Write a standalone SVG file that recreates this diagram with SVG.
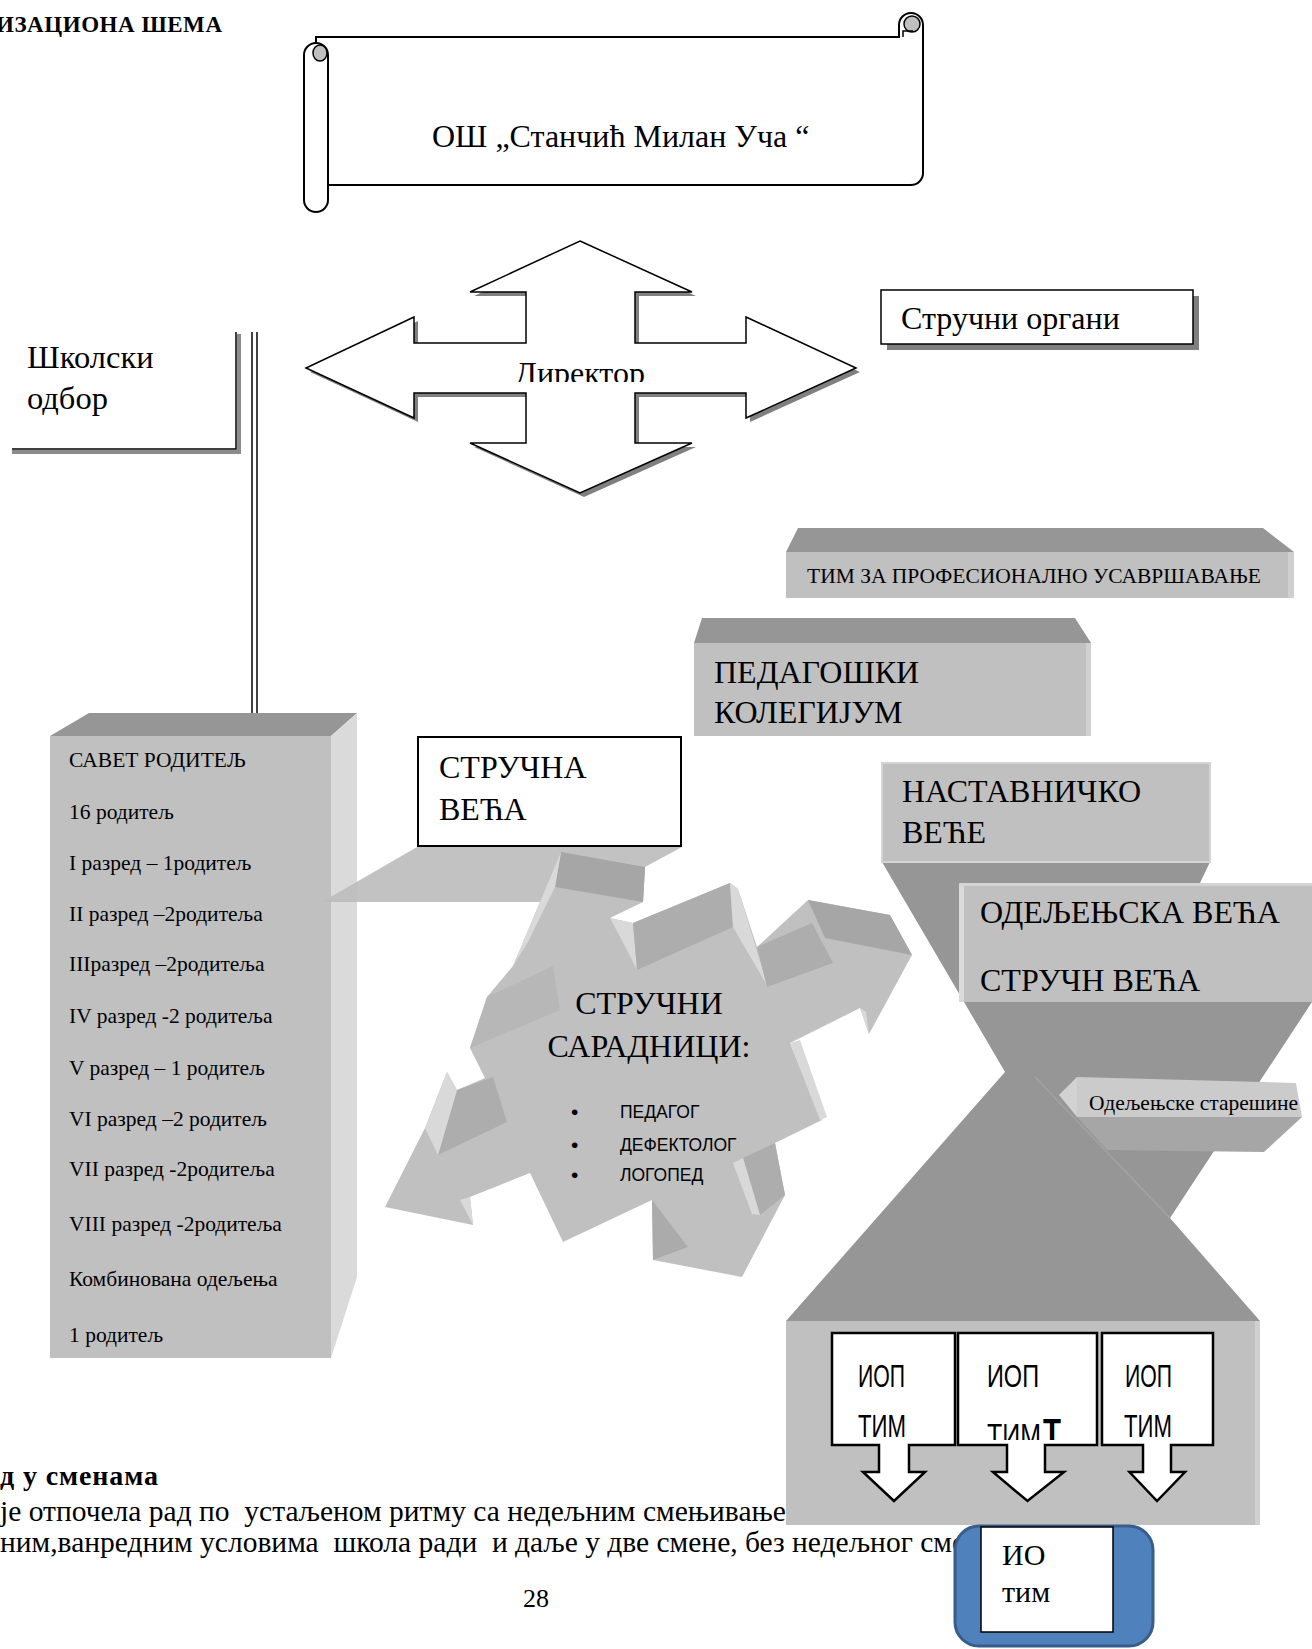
<svg xmlns="http://www.w3.org/2000/svg" width="1312" height="1649" viewBox="0 0 1312 1649">
<style>
.serif{font-family:"Liberation Serif","Times New Roman",serif;fill:#000}
.sans{font-family:"Liberation Sans",Arial,sans-serif;fill:#000}
.big{font-size:32px}
.small{font-size:21.5px}
.face{fill:#c0c0c0}
.dark{fill:#969696}
.wall{fill:#adadad}
.lite{fill:#d9d9d9}
.outline{fill:#fff;stroke:#000;stroke-width:2}
.pre{white-space:pre}
</style>
<defs>
<clipPath id="clipDir"><rect x="420" y="340" width="320" height="42"/></clipPath>
<clipPath id="clipTim2"><rect x="960" y="1400" width="135" height="40"/></clipPath>
<clipPath id="clipStar"><rect x="1077" y="1077" width="225" height="39"/></clipPath>
</defs>
<rect width="1312" height="1649" fill="#fff"/>

<g id="title">
<text class="serif pre" x="-4" y="32" font-size="23" font-weight="bold" textLength="226">ИЗАЦИОНА ШЕМА</text>
</g>

<g id="body-text">
<text class="serif pre" x="0" y="1485" font-size="28" font-weight="bold" textLength="158">д у сменама</text>
<text class="serif pre" x="0" y="1521" font-size="29.5">је отпочела рад по  устаљеном ритму са недељним смењивањем</text>
<text class="serif pre" x="0" y="1552" font-size="29.5">ним,ванредним условима  школа ради  и даље у две смене, без недељног сме</text>
<text class="serif" x="536" y="1607" font-size="26" text-anchor="middle">28</text>
</g>

<g id="school">
<path class="outline" d="M316,37 H899 V25 A12,12 0 0 1 923,25 V173 A12,12 0 0 1 911,185 H316 Z"/>
<circle cx="912" cy="24" r="8" fill="#bfbfbf" stroke="#000" stroke-width="1.5"/>
<path d="M903,37 V31 H913" fill="none" stroke="#000" stroke-width="1.5"/>
<path class="outline" d="M328,200 V55 A12,12 0 0 0 304,55 V200 A12,12 0 0 0 328,200 Z"/>
<ellipse cx="320" cy="53" rx="7" ry="8" fill="#bfbfbf" stroke="#000" stroke-width="1.5"/>
<text class="serif pre" x="432" y="147" font-size="32">ОШ „Станчић Милан Уча “</text>
</g>

<g id="director">
<path fill="#808080" transform="translate(4,4)" d="M580,241 L692,292 L635,292 L635,343 L746,343 L746,317 L856,368 L746,418 L746,393 L635,393 L635,443 L692,443 L580,493 L470,443 L526,443 L526,393 L414,393 L414,418 L306,368 L414,317 L414,343 L526,343 L526,292 L470,292 Z"/>
<path fill="#fff" stroke="#000" stroke-width="1.5" d="M580,241 L692,292 L635,292 L635,343 L746,343 L746,317 L856,368 L746,418 L746,393 L635,393 L635,443 L692,443 L580,493 L470,443 L526,443 L526,393 L414,393 L414,418 L306,368 L414,317 L414,343 L526,343 L526,292 L470,292 Z"/>
<text class="serif" x="580" y="384" font-size="32" text-anchor="middle" clip-path="url(#clipDir)">Директор</text>
</g>

<g id="skolski-odbor">
<path d="M239,334 V452 H12" fill="none" stroke="#8c8c8c" stroke-width="4"/>
<path d="M236,332 V449 H12" fill="none" stroke="#000" stroke-width="1.5"/>
<text class="serif" x="27" y="368" font-size="32.5">Школски</text>
<text class="serif" x="27" y="409" font-size="32.5">одбор</text>
</g>

<g id="strucni-organi">
<rect x="887" y="296" width="312" height="54" fill="#7f7f7f"/>
<rect x="881" y="290" width="312" height="54" fill="#fff" stroke="#000" stroke-width="1.5"/>
<text class="serif big" x="901" y="329">Стручни органи</text>
</g>

<g id="connectors">
<line x1="252" y1="332" x2="252" y2="713" stroke="#000" stroke-width="1.5"/>
<line x1="257" y1="332" x2="257" y2="713" stroke="#000" stroke-width="1.5"/>
</g>

<g id="tim-usavrsavanje">
<polygon class="dark" points="798,528 1263,528 1294,552 786,552"/>
<rect class="face" x="786" y="552" width="508" height="46"/>
<rect x="1288" y="552" width="6" height="46" fill="#d0d0d0"/>
<text class="serif small" x="807" y="583">ТИМ ЗА ПРОФЕСИОНАЛНО УСАВРШАВАЊЕ</text>
</g>

<g id="pedagoski-kolegijum">
<polygon class="dark" points="702,618 1075,618 1091,643 694,643"/>
<rect class="face" x="694" y="643" width="397" height="93"/>
<rect x="1086" y="643" width="5" height="93" fill="#d0d0d0"/>
<text class="serif big" x="714" y="683">ПЕДАГОШКИ</text>
<text class="serif big" x="714" y="723">КОЛЕГИЈУМ</text>
</g>

<g id="hourglass">
<polygon class="dark" points="882,862 1210,862 1200,883 1312,883 1312,1002 1170,1218 1260,1321 786,1321 1005,1072"/>
<line x1="1035" y1="1077" x2="1170" y2="1218" stroke="#a3a3a3" stroke-width="1.5"/>
</g>

<g id="nastavnicko-vece">
<rect class="face" x="882" y="763" width="328" height="99" stroke="#d4d4d4" stroke-width="2"/>
<text class="serif big" x="902" y="802">НАСТАВНИЧКО</text>
<text class="serif big" x="902" y="843">ВЕЋЕ</text>
</g>

<g id="odeljenska-veca">
<rect class="face" x="959" y="883" width="353" height="119"/>
<rect x="959" y="883" width="5" height="119" fill="#dadada"/>
<rect x="959" y="883" width="353" height="3" fill="#d4d4d4"/>
<text class="serif big" x="980" y="923">ОДЕЉЕЊСКА ВЕЋА</text>
<text class="serif big" x="980" y="991">СТРУЧН ВЕЋА</text>
</g>

<g id="odeljenske-staresine">
<polygon points="1077,1117 1302,1117 1264,1152 1107,1150" fill="#a6a6a6"/>
<polygon points="1059,1095 1077,1077 1077,1117" fill="#d2d2d2"/>
<polygon points="1077,1077 1296,1083 1302,1117 1077,1117" fill="#cbcbcb"/>
<text class="serif" x="1089" y="1110" font-size="21.5" clip-path="url(#clipStar)">Одељењске старешине</text>
</g>

<g id="savet-roditelja">
<polygon class="dark" points="50,736 89,713 357,713 331,736"/>
<polygon points="331,736 357,713 357,1277 331,1358" fill="#dadada"/>
<rect class="face" x="50" y="736" width="281" height="622"/>
<g class="serif small">
<text x="69" y="767">САВЕТ РОДИТЕЉ</text>
<text x="69" y="819">16 родитељ</text>
<text x="69" y="870">I разред – 1родитељ</text>
<text x="69" y="921">II разред –2родитеља</text>
<text x="69" y="971">IIIразред –2родитеља</text>
<text x="69" y="1023">IV разред -2 родитеља</text>
<text x="69" y="1075">V разред – 1 родитељ</text>
<text x="69" y="1126">VI разред –2 родитељ</text>
<text x="69" y="1176">VII разред -2родитеља</text>
<text x="69" y="1231">VIII разред -2родитеља</text>
<text x="69" y="1286">Комбинована одељења</text>
<text x="69" y="1342">1 родитељ</text>
</g>
</g>

<g id="strucna-veca">
<polygon points="322,902 417,847 682,847 645,867 643,902" fill="#bdbdbd" fill-opacity="0.92"/>
<rect x="418" y="737" width="263" height="109" fill="#fff" stroke="#000" stroke-width="2"/>
<text class="serif big" x="439" y="778">СТРУЧНА</text>
<text class="serif big" x="439" y="820">ВЕЋА</text>
</g>

<g id="strucni-saradnici">
<polygon class="face" points="561,852 645,867 643,902 610,918 633,923 730,883 738,889 757,947 808,900 890,915 912,955 869,1034 860,1008 790,1043 822,1120 775,1143 785,1195 742,1277 653,1260 652,1200 563,1242 530,1173 470,1197 473,1225 385,1207 425,1128 447,1072 457,1090 485,1078 470,1048 487,997 513,966"/>
<polygon points="487,997 553,966 560,1010 470,1048" fill="#b7b7b7"/>
<polygon points="561,852 645,867 643,902 555,887" fill="#a6a6a6"/>
<polygon class="lite" points="561,852 555,887 528,942 513,966"/>
<polygon class="lite" points="610,918 633,923 637,970 627,950"/>
<polygon class="wall" points="633,923 730,883 733,927 637,970"/>
<polygon class="lite" points="730,883 738,889 768,987 733,927"/>
<polygon class="wall" points="757,947 812,923 833,963 767,987"/>
<polygon points="808,900 890,915 912,955 825,938" fill="#a6a6a6"/>
<polygon class="lite" points="860,1008 866,1012 869,1034"/>
<polygon class="lite" points="790,1043 800,1040 827,1117 820,1120"/>
<polygon class="wall" points="743,1158 775,1143 785,1195 760,1215"/>
<polygon class="lite" points="733,1163 743,1158 760,1215 752,1214"/>
<polygon points="652,1200 688,1247 653,1260" fill="#ababab"/>
<polygon class="wall" points="457,1090 493,1077 507,1122 438,1155"/>
<polygon class="lite" points="447,1072 457,1090 438,1155 425,1128"/>
<polygon class="lite" points="460,1200 470,1197 473,1225"/>
<text class="serif" x="649" y="1014" font-size="32" text-anchor="middle">СТРУЧНИ</text>
<text class="serif" x="649" y="1057" font-size="32" text-anchor="middle">САРАДНИЦИ:</text>
<g class="sans" font-size="17.5">
<text x="571" y="1119" font-size="21">•</text><text x="620" y="1118">ПЕДАГОГ</text>
<text x="571" y="1152" font-size="21">•</text><text x="620" y="1151">ДЕФЕКТОЛОГ</text>
<text x="571" y="1182" font-size="21">•</text><text x="620" y="1181">ЛОГОПЕД</text>
</g>
</g>

<g id="iop-timovi">
<rect class="face" x="786" y="1321" width="474" height="204"/>
<rect x="1255" y="1321" width="5" height="204" fill="#d0d0d0"/>
<path fill="#fff" stroke="#000" stroke-width="2.5" d="M832,1333 H955 V1445 H909 V1472 H925 L894,1501 L863,1472 H879 V1445 H832 Z"/>
<path fill="#fff" stroke="#000" stroke-width="2.5" d="M958,1333 H1097 V1445 H1045 V1472 H1064 L1027.5,1501 L993,1472 H1007 V1445 H958 Z"/>
<path fill="#fff" stroke="#000" stroke-width="2.5" d="M1102,1333 H1213 V1445 H1171 V1472 H1185 L1157,1501 L1129.5,1472 H1143 V1445 H1102 Z"/>
<g class="sans" font-size="32">
<text x="858" y="1387" textLength="47" lengthAdjust="spacingAndGlyphs">ИОП</text>
<text x="858" y="1437" textLength="48" lengthAdjust="spacingAndGlyphs">ТИМ</text>
<text x="987" y="1387" textLength="52" lengthAdjust="spacingAndGlyphs">ИОП</text>
<g clip-path="url(#clipTim2)">
<text x="987" y="1446" textLength="54" lengthAdjust="spacingAndGlyphs">ТИМ</text>
<text x="1043" y="1446" font-size="38" font-weight="bold" textLength="18" lengthAdjust="spacingAndGlyphs">Т</text>
</g>
<text x="1125" y="1387" textLength="47" lengthAdjust="spacingAndGlyphs">ИОП</text>
<text x="1124" y="1437" textLength="48" lengthAdjust="spacingAndGlyphs">ТИМ</text>
</g>
</g>

<g id="io-tim">
<rect x="955" y="1526" width="198" height="120" rx="24" fill="#4f81bd" stroke="#385d8a" stroke-width="3"/>
<rect x="981" y="1527" width="132" height="105" fill="#fff" stroke="#000" stroke-width="1.5"/>
<text class="serif" x="1002" y="1565" font-size="30">ИО</text>
<text class="serif" x="1002" y="1602" font-size="30">тим</text>
</g>
</svg>
